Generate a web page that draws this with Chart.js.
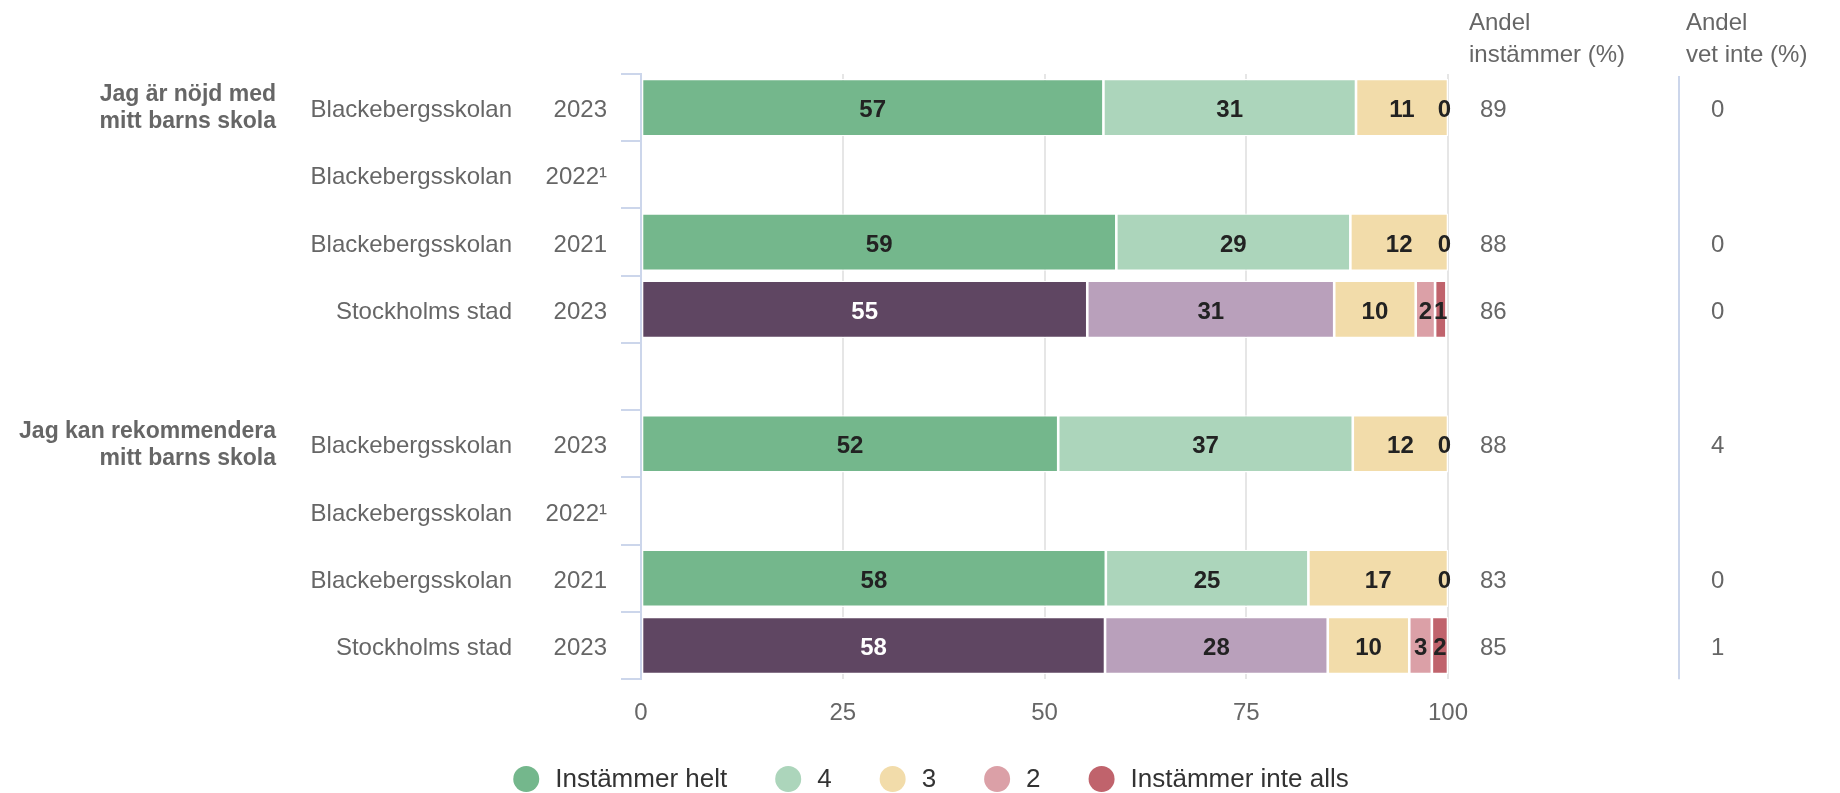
<!DOCTYPE html>
<html>
<head>
<meta charset="utf-8">
<script src="https://cdn.jsdelivr.net/npm/chart.js@4.4.1/dist/chart.umd.min.js"></script>
<style>
html, body { margin: 0; padding: 0; background: #fff; }
#wrap { width: 1840px; height: 793px; position: relative; }
</style>
</head>
<body>
<div id="wrap"><canvas id="myChart"></canvas></div>
<script>
// rows of the chart (empty row = gap between the two questions)
const schools = ['Blackebergsskolan', 'Blackebergsskolan', 'Blackebergsskolan', 'Stockholms stad', '',
                 'Blackebergsskolan', 'Blackebergsskolan', 'Blackebergsskolan', 'Stockholms stad'];
const years = ['2023', '2022\u00b9', '2021', '2023', '', '2023', '2022\u00b9', '2021', '2023'];
const questions = [['Jag är nöjd med', 'mitt barns skola'], ['Jag kan rekommendera', 'mitt barns skola']];
const questionRows = [0, 5];

const seriesNames = ['Instämmer helt', '4', '3', '2', 'Instämmer inte alls'];
const helt     = [57.3, null, 58.9, 55.3, null, 51.7, null, 57.6, 57.5];
const fyra     = [31.3, null, 29.0, 30.6, null, 36.5, null, 25.1, 27.6];
const tre      = [11.4, null, 12.1, 10.1, null, 11.8, null, 17.3, 10.1];
const tva      = [0, null, 0, 2.4, null, 0, null, 0, 2.8];
const inteAlls = [null, null, null, 1.4, null, null, null, null, 2.0];

const andelInstammer = [89, null, 88, 86, null, 88, null, 83, 85];
const andelVetInte   = [0, null, 0, 0, null, 4, null, 0, 1];

const xTicks = [0, 25, 50, 75, 100];

const schoolColors = ['#74b78c', '#acd5bb', '#f2dcaa', '#dba0a7', '#c0636c'];
const cityColors   = ['#5f4662', '#b9a0bb', '#f2dcaa', '#dba0a7', '#c0636c'];

const FONT = "'Liberation Sans', Arial, Helvetica, sans-serif";

let seriesData = [helt, fyra, tre, tva, inteAlls];
let datasets = [];
for (let k = 0; k < seriesData.length; k++) {
    datasets.push({
        label: seriesNames[k],
        data: seriesData[k],
        backgroundColor: schools.map(s => s === 'Stockholms stad' ? cityColors[k] : schoolColors[k]),
        borderColor: '#ffffff',
        borderWidth: 1.3,
        borderSkipped: false,
        barPercentage: 0.85,
        categoryPercentage: 1.0
    });
}

// numbers inside the bars
const barLabels = {
    id: 'barLabels',
    afterDatasetsDraw(chart) {
        const ctx = chart.ctx;
        const area = chart.chartArea;
        ctx.save();
        ctx.font = 'bold 24px ' + FONT;
        ctx.textAlign = 'center';
        ctx.textBaseline = 'middle';
        chart.data.datasets.forEach((ds, i) => {
            const meta = chart.getDatasetMeta(i);
            meta.data.forEach((el, j) => {
                const v = ds.data[j];
                if (v === null || v === undefined) return;
                const p = el.getProps(['x', 'y', 'base'], true);
                const txt = String(Math.round(v));
                const w = ctx.measureText(txt).width;
                let cx = (p.x + p.base) / 2;
                if (cx + w / 2 > area.right + 3) cx = area.right + 3 - w / 2;
                ctx.fillStyle = ds.backgroundColor[j] === '#5f4662' ? '#ffffff' : '#222222';
                ctx.fillText(txt, cx, p.y + 3);
            });
        });
        ctx.restore();
    }
};

// row labels, question labels and the two side columns
const sideLabels = {
    id: 'sideLabels',
    afterDraw(chart) {
        const ctx = chart.ctx;
        const y = chart.scales.y;
        ctx.save();
        ctx.textBaseline = 'middle';
        ctx.fillStyle = '#666666';
        ctx.font = '24px ' + FONT;
        for (let i = 0; i < schools.length; i++) {
            const py = y.getPixelForValue(i) + 3;
            if (schools[i]) {
                ctx.textAlign = 'right';
                ctx.fillText(schools[i], 512, py);
                ctx.fillText(years[i], 607, py);
            }
            ctx.textAlign = 'left';
            if (andelInstammer[i] !== null) ctx.fillText(String(andelInstammer[i]), 1480, py);
            if (andelVetInte[i] !== null) ctx.fillText(String(andelVetInte[i]), 1711, py);
        }
        // column headers
        ctx.textAlign = 'left';
        ctx.fillText('Andel', 1469, 23);
        ctx.fillText('instämmer (%)', 1469, 55);
        ctx.fillText('Andel', 1686, 23);
        ctx.fillText('vet inte (%)', 1686, 55);

        // question labels
        ctx.font = 'bold 23px ' + FONT;
        ctx.textAlign = 'right';
        questions.forEach((q, n) => {
            const py = y.getPixelForValue(questionRows[n]) + 1;
            ctx.fillText(q[0], 276, py - 13.5);
            ctx.fillText(q[1], 276, py + 13.5);
        });

        // separator before last column
        ctx.strokeStyle = '#ccd6eb';
        ctx.lineWidth = 2;
        ctx.beginPath();
        ctx.moveTo(1679, chart.chartArea.top + 2);
        ctx.lineTo(1679, chart.chartArea.bottom);
        ctx.stroke();
        ctx.restore();
    }
};

// legend drawn by hand so the spacing can follow the picture
const bottomLegend = {
    id: 'bottomLegend',
    afterDraw(chart) {
        const ctx = chart.ctx;
        ctx.save();
        ctx.font = '26px ' + FONT;
        ctx.textBaseline = 'middle';
        ctx.textAlign = 'left';
        const r = 13, gapText = 29, gapItem = 48;
        let total = 0;
        seriesNames.forEach((n, k) => {
            total += 2 * r + (gapText - r) + ctx.measureText(n).width;
            if (k < seriesNames.length - 1) total += gapItem;
        });
        let x = 931 - total / 2;
        const cy = 779;
        seriesNames.forEach((n, k) => {
            ctx.fillStyle = schoolColors[k];
            ctx.beginPath();
            ctx.arc(x + r, cy, r, 0, Math.PI * 2);
            ctx.fill();
            ctx.fillStyle = '#333333';
            ctx.fillText(n, x + r + gapText, cy + 1);
            x += r + gapText + ctx.measureText(n).width + gapItem;
        });
        ctx.restore();
    }
};

const ctx = document.getElementById('myChart');
new Chart(ctx, {
    type: 'bar',
    data: {
        labels: schools.map((s, i) => s + ' ' + years[i]),
        datasets: datasets
    },
    plugins: [barLabels, sideLabels, bottomLegend],
    options: {
        indexAxis: 'y',
        responsive: true,
        maintainAspectRatio: false,
        animation: false,
        devicePixelRatio: 1,
        layout: {
            padding: { left: 621, right: 392, top: 74, bottom: 45 }
        },
        plugins: {
            legend: { display: false },
            tooltip: { enabled: false }
        },
        scales: {
            x: {
                stacked: true,
                min: 0,
                max: 100,
                afterBuildTicks: (scale) => { scale.ticks = xTicks.map(v => ({ value: v })); },
                ticks: {
                    color: '#666666',
                    font: { family: FONT, size: 24 },
                    padding: 20
                },
                grid: {
                    color: '#e6e6e6',
                    lineWidth: 2,
                    drawTicks: false
                },
                border: { display: false }
            },
            y: {
                stacked: true,
                ticks: { display: false },
                grid: {
                    drawOnChartArea: false,
                    drawTicks: true,
                    tickLength: 20,
                    color: '#ccd6eb',
                    lineWidth: 2,
                    offset: true
                },
                border: { display: true, color: '#ccd6eb', width: 2 }
            }
        }
    }
});
</script>
</body>
</html>
